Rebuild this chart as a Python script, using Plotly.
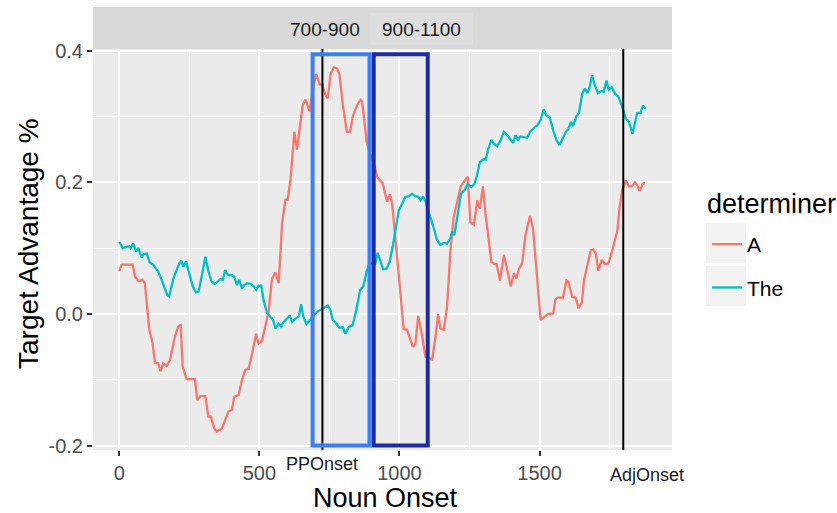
import plotly.graph_objects as go

# ---- data ----
x_a = [0, 8, 48, 56, 68, 83, 91, 107, 119, 127, 139, 147, 157, 169, 181, 198, 210, 219, 226, 240,
       270, 278, 289, 307, 318, 327, 339, 348, 366, 378, 390, 402, 410, 426, 438, 450, 462, 474, 488, 497,
       509, 521, 533, 545, 557, 569, 581, 593, 601, 611, 619, 625, 634, 643, 655, 665, 679, 693, 703, 715,
       724, 736, 744, 754, 765, 778, 786, 798, 812, 824, 833, 849, 861, 867, 883, 893, 910, 922, 940, 956,
       966, 974, 986, 998, 1015, 1027, 1039, 1048, 1057, 1067, 1079, 1093, 1105, 1117, 1129, 1138, 1146,
       1158, 1170, 1182, 1194, 1206, 1218, 1230, 1244, 1253, 1266, 1278, 1287, 1298, 1307, 1319, 1328,
       1340, 1347, 1359, 1373, 1385, 1397, 1409, 1418, 1426, 1438, 1450, 1466, 1477, 1489, 1504, 1515,
       1530, 1549, 1557, 1565, 1584, 1596, 1603, 1617, 1629, 1639, 1651, 1659, 1671, 1683, 1692, 1701,
       1710, 1722, 1734, 1746, 1760, 1778, 1786, 1795, 1808, 1819, 1829, 1841, 1849, 1858, 1867, 1876]
y_a = [0.065, 0.075, 0.075, 0.057, 0.050, 0.052, 0.047, -0.024, -0.045, -0.074, -0.075, -0.087, -0.075,
       -0.079, -0.070, -0.035, -0.019, -0.017, -0.080, -0.099, -0.099, -0.131, -0.125, -0.125, -0.156,
       -0.156, -0.174, -0.179, -0.174, -0.161, -0.148, -0.146, -0.126, -0.123, -0.100, -0.085, -0.083,
       -0.060, -0.030, -0.045, -0.041, -0.019, 0.004, 0.054, 0.063, 0.047, 0.138, 0.174, 0.174, 0.204,
       0.242, 0.277, 0.250, 0.283, 0.318, 0.326, 0.308, 0.346, 0.365, 0.349, 0.349, 0.333, 0.328, 0.364,
       0.375, 0.373, 0.364, 0.318, 0.277, 0.277, 0.300, 0.318, 0.326, 0.323, 0.262, 0.247, 0.227, 0.207,
       0.199, 0.171, 0.182, 0.168, 0.117, 0.057, -0.023, -0.024, -0.039, -0.050, -0.045, -0.003, -0.029,
       -0.065, -0.067, -0.069, -0.034, 0.000, -0.022, -0.024, 0.011, 0.097, 0.148, 0.171, 0.193, 0.201,
       0.209, 0.140, 0.136, 0.173, 0.160, 0.194, 0.153, 0.112, 0.079, 0.076, 0.076, 0.051, 0.090, 0.067,
       0.042, 0.062, 0.054, 0.068, 0.077, 0.120, 0.149, 0.130, 0.072, -0.009, -0.005, 0.000, 0.001, 0.022,
       0.025, 0.025, 0.051, 0.049, 0.026, 0.025, 0.009, 0.017, 0.052, 0.077, 0.097, 0.098, 0.092, 0.066,
       0.082, 0.076, 0.077, 0.097, 0.127, 0.163, 0.188, 0.203, 0.194, 0.194, 0.200, 0.196, 0.187, 0.197,
       0.200]

x_the = [0, 12, 24, 36, 40, 50, 60, 68, 80, 86, 98, 109, 121, 139, 151, 163, 171, 178, 187, 193, 205,
         214, 222, 228, 238, 250, 262, 274, 283, 295, 307, 318, 330, 340, 348, 360, 370, 378, 388, 402,
         410, 420, 428, 438, 446, 456, 468, 480, 489, 497, 507, 515, 527, 539, 549, 557, 569, 577, 587,
         599, 608, 617, 629, 641, 649, 656, 668, 682, 697, 709, 720, 732, 744, 753, 762, 774, 786, 798,
         807, 819, 833, 845, 860, 871, 883, 893, 914, 922, 931, 942, 954, 965, 977, 989, 998, 1010, 1021,
         1033, 1045, 1057, 1065, 1075, 1084, 1093, 1111, 1123, 1134, 1146, 1158, 1170, 1182, 1188, 1196,
         1208, 1220, 1232, 1244, 1256, 1268, 1277, 1287, 1299, 1308, 1316, 1328, 1337, 1349, 1361, 1373,
         1385, 1397, 1406, 1414, 1423, 1432, 1444, 1456, 1468, 1480, 1492, 1504, 1515, 1525, 1537, 1549,
         1561, 1572, 1584, 1594, 1603, 1612, 1620, 1632, 1641, 1653, 1662, 1671, 1679, 1688, 1697, 1709,
         1721, 1729, 1739, 1747, 1758, 1770, 1782, 1794, 1808, 1820, 1832, 1841, 1849, 1861, 1869, 1879]
y_the = [0.110, 0.100, 0.102, 0.103, 0.100, 0.107, 0.095, 0.100, 0.086, 0.091, 0.092, 0.078, 0.075,
         0.064, 0.052, 0.037, 0.029, 0.027, 0.044, 0.054, 0.067, 0.077, 0.081, 0.072, 0.080, 0.062, 0.042,
         0.033, 0.034, 0.059, 0.087, 0.065, 0.049, 0.046, 0.048, 0.053, 0.052, 0.067, 0.059, 0.059, 0.057,
         0.044, 0.052, 0.039, 0.044, 0.047, 0.046, 0.042, 0.037, 0.043, 0.043, 0.021, 0.002, -0.004,
         -0.009, -0.022, -0.015, -0.019, -0.012, -0.007, -0.002, -0.012, -0.007, -0.004, 0.015, -0.003,
         -0.015, -0.009, 0.000, 0.004, 0.007, 0.009, 0.013, 0.007, -0.009, -0.014, -0.021, -0.020, -0.030,
         -0.020, -0.017, 0.004, 0.037, 0.042, 0.065, 0.077, 0.077, 0.093, 0.081, 0.068, 0.069, 0.079, 0.105,
         0.135, 0.158, 0.168, 0.178, 0.179, 0.183, 0.179, 0.179, 0.173, 0.179, 0.171, 0.148, 0.130, 0.113,
         0.105, 0.108, 0.107, 0.115, 0.125, 0.120, 0.155, 0.183, 0.188, 0.198, 0.193, 0.198, 0.211, 0.231,
         0.235, 0.235, 0.249, 0.265, 0.259, 0.255, 0.264, 0.277, 0.272, 0.265, 0.260, 0.272, 0.265, 0.270,
         0.269, 0.268, 0.278, 0.282, 0.287, 0.295, 0.311, 0.302, 0.299, 0.279, 0.264, 0.257, 0.268, 0.277,
         0.281, 0.292, 0.286, 0.301, 0.306, 0.335, 0.343, 0.336, 0.345, 0.363, 0.348, 0.336, 0.339, 0.338,
         0.355, 0.341, 0.345, 0.335, 0.330, 0.317, 0.297, 0.292, 0.274, 0.290, 0.306, 0.306, 0.317, 0.312]

series_names = ["A", "The"]
series_colors = ["#F8766D", "#00BFC4"]

x_ticks = [0, 500, 1000, 1500]
x_ticklabels = ["0", "500", "1000", "1500"]
y_ticks = [-0.2, 0.0, 0.2, 0.4]
y_ticklabels = ["-0.2", "0.0", "0.2", "0.4"]

onset_x = [725, 1799]
onset_labels = ["PPOnset", "AdjOnset"]
onset_label_x = [723, 1882]

windows = [(690, 893), (908, 1101)]
window_labels = ["700-900", "900-1100"]
window_label_x = [734, 1079]
window_colors = ["#3A80F2", "#1E2AA4"]
window_y = (-0.2, 0.395)

X_RANGE = [-94, 1973]
Y_RANGE = [-0.2068, 0.403]

FONT = "Liberation Sans, Arial, Helvetica, sans-serif"

# plot-area geometry in pixels (for paper-coordinate placement)
L, T, W, H = 93, 49, 579, 401


def px_x(px):
    return (px - L) / W


def px_y(py):
    return (T + H - py) / H


fig = go.Figure()
for name, col, xs, ys in zip(series_names, series_colors, [x_a, x_the], [y_a, y_the]):
    fig.add_trace(go.Scatter(x=xs, y=ys, mode="lines", name=name, legendgroup=name,
                             line=dict(color=col, width=2.3)))

shapes = []
# strip on top
shapes.append(dict(type="rect", xref="paper", yref="paper", x0=0, x1=1, y0=1.0, y1=px_y(7),
                   fillcolor="#D9D9D9", line=dict(width=0), layer="below"))
shapes.append(dict(type="rect", xref="x", yref="paper", x0=895, x1=1263, y0=px_y(45), y1=px_y(13),
                   fillcolor="#DEDEDE", line=dict(width=0), layer="below"))
# onset lines
for ox in onset_x:
    shapes.append(dict(type="line", xref="x", yref="paper", x0=ox, x1=ox, y0=0, y1=1,
                       line=dict(color="black", width=2), layer="above"))
# window boxes
for (w0, w1), col in zip(windows, window_colors):
    shapes.append(dict(type="rect", xref="x", yref="y", x0=w0, x1=w1, y0=window_y[0], y1=window_y[1],
                       line=dict(color=col, width=4), fillcolor="rgba(0,0,0,0)", layer="above"))
# legend key backgrounds
for k in range(2):
    top = 223 + k * 43
    shapes.append(dict(type="rect", xref="paper", yref="paper",
                       x0=px_x(706), x1=px_x(746), y0=px_y(top + 40), y1=px_y(top),
                       fillcolor="#F2F2F2", line=dict(width=0), layer="below"))

annotations = []
for lx, lab in zip(window_label_x, window_labels):
    annotations.append(dict(x=lx, y=px_y(29), xref="x", yref="paper", text=lab, showarrow=False,
                            font=dict(size=19, color="#1A1A1A", family=FONT), xanchor="center", yanchor="middle"))
for lx, lab, py in zip(onset_label_x, onset_labels, [464, 474.5]):
    annotations.append(dict(x=lx, y=px_y(py), xref="x", yref="paper", text=lab, showarrow=False,
                            font=dict(size=18, color="#1A1A1A", family=FONT), xanchor="center", yanchor="middle"))
# axis titles and legend title
annotations.append(dict(x=px_x(386), y=px_y(514), xref="paper", yref="paper", text="Noun Onset",
                        showarrow=False, font=dict(size=27, color="black", family=FONT),
                        xanchor="center", yanchor="bottom", borderpad=0))
annotations.append(dict(x=px_x(28), y=px_y(244), xref="paper", yref="paper", text="Target Advantage %",
                        showarrow=False, textangle=-90, font=dict(size=28, color="black", family=FONT),
                        xanchor="center", yanchor="middle"))
annotations.append(dict(x=px_x(705), y=px_y(204), xref="paper", yref="paper", text="determiner",
                        showarrow=False, font=dict(size=27, color="black", family=FONT),
                        xanchor="left", yanchor="middle"))

fig.update_layout(
    width=837, height=513,
    margin=dict(l=L, r=837 - L - W, t=T, b=513 - T - H, autoexpand=False),
    paper_bgcolor="white", plot_bgcolor="#EBEBEB",
    font=dict(family=FONT, color="black"),
    shapes=shapes, annotations=annotations,
    legend=dict(x=px_x(707), y=px_y(224), xanchor="left", yanchor="top",
                bgcolor="rgba(0,0,0,0)", font=dict(size=21, color="black", family=FONT),
                tracegroupgap=13, itemwidth=30),
    xaxis=dict(range=X_RANGE, tickvals=x_ticks, ticktext=x_ticklabels, showgrid=True, automargin=False,
               gridcolor="white", gridwidth=2, zeroline=False, ticks="outside", ticklen=5,
               tickwidth=1.5, tickcolor="#333333", ticklabelstandoff=0,
               tickfont=dict(size=20, color="#4D4D4D", family=FONT),
               minor=dict(tickvals=[250, 750, 1250, 1750], showgrid=True, gridcolor="white",
                          gridwidth=1, ticks="")),
    yaxis=dict(range=Y_RANGE, tickvals=y_ticks, ticktext=y_ticklabels, showgrid=True, automargin=False,
               gridcolor="white", gridwidth=2, zeroline=False, ticks="outside", ticklen=5,
               tickwidth=1.5, tickcolor="#333333",
               tickfont=dict(size=20, color="#4D4D4D", family=FONT),
               minor=dict(tickvals=[-0.1, 0.1, 0.3], showgrid=True, gridcolor="white",
                          gridwidth=1, ticks="")),
)

# remove the page's default 8px body margin so the figure sits at the window origin
fig.write_html("out.html", config={"displayModeBar": False},
               post_script="document.body.style.margin='0';document.body.style.overflow='hidden';")
